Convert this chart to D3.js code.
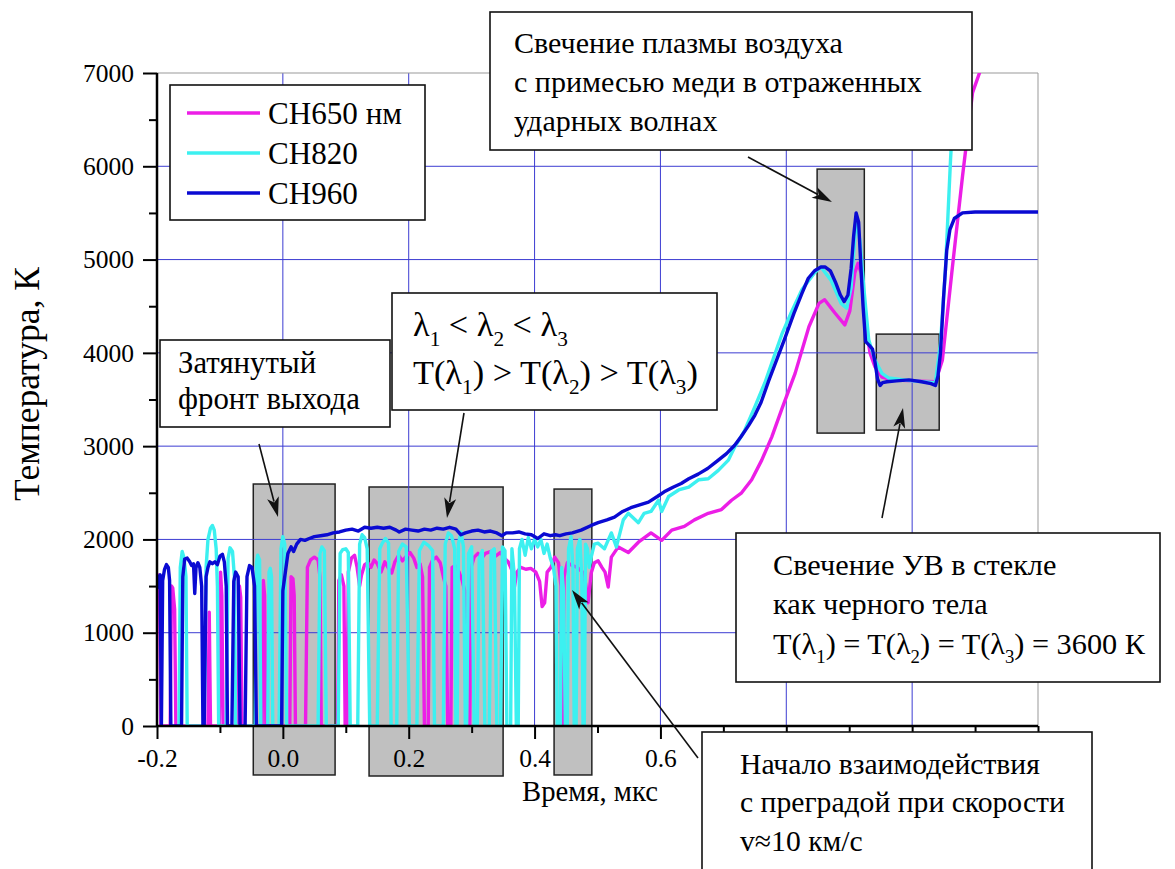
<!DOCTYPE html>
<html>
<head>
<meta charset="utf-8">
<script src="https://cdn.jsdelivr.net/npm/d3@7"></script>
<style>
  body { margin: 0; background: #fff; }
  svg { display: block; }
</style>
</head>
<body>
<svg id="chart" width="1175" height="869"></svg>
<script>
// Axis ticks
const xTicks = [-0.2, 0.0, 0.2, 0.4, 0.6, 0.8, 1.0, 1.2];
const xLabelled = [-0.2, 0.0, 0.2, 0.4, 0.6];
const xMinorTicks = [-0.1, 0.1, 0.3, 0.5, 0.7, 0.9, 1.1];
const yTicks = [0, 1000, 2000, 3000, 4000, 5000, 6000, 7000];
const yMinorTicks = [500, 1500, 2500, 3500, 4500, 5500, 6500];
const seriesNames = ["CH650 нм", "CH820", "CH960"];

// Brightness temperature, [time µs, T K]
const ch650 = [
  [-0.200,1560],[-0.198,1620],[-0.196,1500],[-0.194,0],
  [-0.179,0],[-0.177,1500],[-0.175,1480],[-0.172,1250],[-0.170,0],
  [-0.119,0],[-0.117,1220],[-0.115,0],
  [-0.101,0],[-0.099,1650],[-0.097,1400],[-0.095,0],
  [-0.071,0],[-0.069,1500],[-0.067,1380],[-0.065,0],
  [-0.033,0],[-0.031,1560],[-0.029,1400],[-0.027,0],
  [0.011,0],[0.013,1600],[0.016,1580],[0.018,1400],[0.020,0],
  [0.036,0],[0.039,1700],[0.044,1780],[0.050,1810],[0.056,1780],[0.059,1600],[0.061,0],
  [0.087,0],[0.089,1560],[0.093,1620],[0.097,1500],[0.099,0],
  [0.102,0],[0.104,1650],[0.109,1800],[0.114,1830],[0.118,1700],[0.122,1500],[0.125,1620],[0.130,1730],
  [0.135,1750],[0.140,1700],[0.145,1780],[0.150,1740],[0.156,1650],[0.162,1760],[0.168,1690],[0.173,1640],
  [0.178,1760],[0.184,1830],[0.190,1770],[0.196,1820],[0.202,1860],[0.208,1800],[0.213,1700],[0.218,1740],
  [0.222,1600],[0.225,0],
  [0.231,0],[0.233,1700],[0.238,1780],[0.244,1810],[0.250,1750],[0.255,1600],[0.259,1500],[0.262,0],
  [0.267,0],[0.269,1700],[0.274,1720],[0.280,1650],[0.285,1560],[0.289,1450],[0.291,0],
  [0.297,0],[0.299,1700],[0.304,1810],[0.310,1850],[0.316,1800],[0.322,1850],[0.330,1870],[0.338,1820],
  [0.346,1860],[0.352,1800],[0.358,1760],[0.364,1670],[0.368,1490],[0.372,1650],[0.378,1700],[0.386,1680],
  [0.394,1690],[0.402,1650],[0.408,1550],[0.412,1280],[0.416,1320],[0.420,1650],[0.426,1700],[0.432,1810],
  [0.438,1750],[0.442,1500],[0.444,0],[0.447,1600],[0.452,1750],[0.460,1720],[0.468,1700],[0.476,1650],
  [0.481,1530],[0.485,1320],[0.490,1640],[0.495,1750],[0.501,1770],[0.507,1700],[0.512,1650],[0.517,1490],
  [0.522,1810],[0.533,1920],[0.549,1860],[0.565,1970],[0.585,2070],[0.602,1990],[0.618,2100],[0.638,2140],
  [0.654,2210],[0.676,2280],[0.697,2320],[0.713,2420],[0.729,2500],[0.745,2640],[0.761,2850],[0.777,3100],
  [0.793,3400],[0.814,3780],[0.836,4280],[0.852,4530],[0.861,4570],[0.877,4430],[0.893,4300],[0.901,4450],
  [0.909,4860],[0.914,4960],[0.919,4850],[0.925,4350],[0.933,4000],[0.941,3850],[0.952,3740],[0.968,3710],
  [1.000,3700],[1.037,3690],[1.048,3920],[1.064,4920],[1.080,5890],[1.096,6790],[1.107,7000],[1.115,7700]
];

const ch820 = [
  [-0.165,0],[-0.163,1700],[-0.160,1870],[-0.157,1800],[-0.154,1600],[-0.152,0],
  [-0.125,0],[-0.122,1700],[-0.119,2000],[-0.115,2120],[-0.112,2150],[-0.109,2100],[-0.106,1900],[-0.104,1500],[-0.102,0],
  [-0.090,0],[-0.087,1800],[-0.084,1910],[-0.080,1870],[-0.077,1600],[-0.075,0],
  [-0.044,0],[-0.042,1750],[-0.040,1830],[-0.037,1780],[-0.035,0],
  [-0.024,0],[-0.022,1650],[-0.020,1690],[-0.018,1600],[-0.016,0],
  [-0.006,0],[-0.003,1900],[0.000,2030],[0.003,1950],[0.006,0],
  [0.056,0],[0.059,1850],[0.062,1920],[0.066,1880],[0.069,0],
  [0.088,0],[0.091,1850],[0.095,1890],[0.100,1900],[0.104,1860],[0.107,0],
  [0.119,0],[0.122,1950],[0.126,2050],[0.130,2020],[0.134,1900],[0.138,0],
  [0.150,0],[0.154,1900],[0.158,1960],[0.163,2010],[0.168,1960],[0.172,0],
  [0.181,0],[0.184,1870],[0.190,1950],[0.196,1920],[0.201,0],
  [0.213,0],[0.217,1880],[0.224,1970],[0.232,1930],[0.238,1880],[0.241,0],
  [0.255,0],[0.258,1950],[0.263,2070],[0.268,2040],[0.273,1900],[0.275,0],
  [0.277,0],[0.279,1950],[0.283,2080],[0.287,1920],[0.290,0],
  [0.292,0],[0.295,1850],[0.300,1920],[0.304,0],
  [0.309,0],[0.312,1800],[0.317,1880],[0.321,0],
  [0.328,0],[0.331,1870],[0.336,1900],[0.340,0],
  [0.346,0],[0.349,1920],[0.353,1880],[0.356,0],
  [0.362,0],[0.364,1900],[0.368,1600],[0.371,0],
  [0.374,0],[0.376,1900],[0.380,2000],[0.385,1830],[0.390,2020],[0.395,1900],[0.400,2000],[0.405,1920],
  [0.410,2000],[0.415,1850],[0.420,1950],[0.425,1800],[0.430,1700],[0.434,1500],[0.436,0],
  [0.441,0],[0.443,1700],[0.446,1450],[0.449,0],
  [0.452,0],[0.454,1900],[0.458,2030],[0.461,1700],[0.463,0],
  [0.466,0],[0.468,1900],[0.472,2000],[0.475,1600],[0.477,0],
  [0.479,0],[0.481,1950],[0.484,1900],[0.487,1700],[0.490,1810],[0.495,1950],[0.501,1960],[0.511,1900],
  [0.522,2070],[0.530,1920],[0.541,2210],[0.549,2280],[0.565,2180],[0.574,2280],[0.585,2300],[0.597,2420],
  [0.602,2300],[0.613,2460],[0.629,2530],[0.645,2560],[0.661,2640],[0.676,2650],[0.692,2740],[0.708,2850],
  [0.718,2990],[0.734,3170],[0.750,3420],[0.766,3680],[0.780,3950],[0.793,4200],[0.809,4450],[0.825,4680],
  [0.845,4860],[0.855,4920],[0.871,4780],[0.887,4530],[0.896,4480],[0.903,4700],[0.908,5150],[0.911,5460],
  [0.917,5200],[0.924,4640],[0.931,4140],[0.941,3920],[0.952,3780],[0.963,3730],[1.000,3700],[1.037,3680],
  [1.045,4100],[1.053,4900],[1.061,6070],[1.067,6790],[1.072,7140],[1.080,8200]
];

const ch960 = [
  [-0.200,1480],[-0.197,1600],[-0.195,1620],[-0.193,0],[-0.191,1560],[-0.188,1680],[-0.185,1730],[-0.182,1700],[-0.180,1560],[-0.178,0],
  [-0.161,0],[-0.159,1600],[-0.156,1790],[-0.152,1800],[-0.148,1760],[-0.145,1720],[-0.142,1740],[-0.140,1420],
  [-0.138,1700],[-0.135,1750],[-0.132,1700],[-0.129,1500],[-0.127,0],
  [-0.125,0],[-0.122,1600],[-0.119,1700],[-0.116,1760],[-0.112,1740],[-0.108,1760],[-0.104,1730],[-0.100,1820],
  [-0.096,1840],[-0.093,1760],[-0.090,1500],[-0.088,0],
  [-0.081,0],[-0.078,1550],[-0.075,1650],[-0.071,1600],[-0.068,0],
  [-0.060,0],[-0.057,1600],[-0.053,1720],[-0.049,1700],[-0.045,1500],[-0.042,0],
  [-0.002,0],[0.000,1450],[0.003,1600],[0.008,1850],[0.013,1920],[0.017,1870],[0.022,1950],[0.028,2000],
  [0.035,1990],[0.042,2010],[0.050,2030],[0.060,2040],[0.070,2050],[0.080,2070],[0.090,2080],[0.100,2100],
  [0.110,2110],[0.120,2090],[0.130,2130],[0.140,2120],[0.150,2130],[0.160,2120],[0.170,2130],[0.180,2100],
  [0.185,2080],[0.195,2110],[0.205,2100],[0.215,2090],[0.225,2110],[0.235,2100],[0.245,2120],[0.255,2110],
  [0.265,2130],[0.275,2110],[0.283,2050],[0.290,2070],[0.300,2090],[0.310,2100],[0.320,2080],[0.330,2090],
  [0.340,2070],[0.348,2040],[0.355,2070],[0.365,2070],[0.375,2080],[0.385,2060],[0.395,2050],[0.405,2010],
  [0.415,2060],[0.425,2040],[0.433,2050],[0.440,2040],[0.450,2060],[0.460,2070],[0.474,2100],[0.490,2150],
  [0.501,2180],[0.515,2210],[0.527,2240],[0.540,2300],[0.553,2340],[0.567,2370],[0.581,2400],[0.595,2460],
  [0.606,2510],[0.620,2560],[0.633,2600],[0.645,2650],[0.660,2700],[0.675,2760],[0.690,2840],[0.705,2920],
  [0.718,3010],[0.728,3100],[0.740,3220],[0.750,3330],[0.760,3470],[0.772,3700],[0.785,3930],[0.798,4160],
  [0.812,4420],[0.825,4640],[0.835,4800],[0.845,4880],[0.855,4920],[0.862,4920],[0.870,4880],[0.878,4760],
  [0.886,4620],[0.892,4550],[0.898,4620],[0.903,4900],[0.907,5250],[0.911,5500],[0.915,5400],[0.918,5000],
  [0.922,4500],[0.926,4120],[0.932,4080],[0.937,4040],[0.941,3900],[0.945,3720],[0.949,3650],[0.953,3680],
  [0.960,3690],[0.975,3700],[0.995,3710],[1.015,3690],[1.030,3670],[1.037,3650],[1.041,3750],[1.045,4000],
  [1.050,4600],[1.055,5100],[1.060,5320],[1.067,5440],[1.080,5500],[1.100,5510],[1.150,5510],[1.200,5510]
];

// Highlighted intervals: [t start, t end, T low, T high]
const shadedRegions = [
  [-0.047, 0.083, -525, 2594],
  [0.137, 0.350, -536, 2562],
  [0.431, 0.491, -525, 2540],
  [0.849, 0.924, 3140, 5970],
  [0.943, 1.043, 3172, 4201]
];

const FONT = "'Liberation Serif', 'Noto Serif', 'DejaVu Serif', 'FreeSerif', 'Nimbus Roman', 'Tinos', 'Times New Roman', Times, serif";
const svg = d3.select("#chart").style("font-family", FONT);
const W = 1175, H = 869;
const plot = { left: 157, right: 1038, top: 73, bottom: 726 };

const x = d3.scaleLinear().domain([-0.2, 1.2]).range([plot.left, plot.right]);
const y = d3.scaleLinear().domain([0, 7000]).range([plot.bottom, plot.top]);

// every text element gets the serif stack directly
function addText(parent) {
  return parent.append("text").style("font-family", FONT).attr("fill", "#000");
}

svg.append("rect").attr("width", W).attr("height", H).attr("fill", "#fff");

svg.append("defs").append("clipPath").attr("id", "plotClip")
  .append("rect")
  .attr("x", plot.left).attr("y", plot.top)
  .attr("width", plot.right - plot.left).attr("height", plot.bottom - plot.top);

// shaded intervals
svg.append("g").selectAll("rect").data(shadedRegions).join("rect")
  .attr("x", d => x(d[0]))
  .attr("y", d => y(d[3]))
  .attr("width", d => x(d[1]) - x(d[0]))
  .attr("height", d => y(d[2]) - y(d[3]))
  .attr("fill", "#c0c0c0")
  .attr("stroke", "#222")
  .attr("stroke-width", 1.5);

// grid
const grid = svg.append("g").attr("stroke", "#3c3cd2").attr("stroke-width", 1);
grid.selectAll("line.gx").data(xTicks.slice(1, -1)).join("line")
  .attr("x1", d => x(d)).attr("x2", d => x(d))
  .attr("y1", plot.top).attr("y2", plot.bottom);
grid.selectAll("line.gy").data(yTicks.slice(1, -1)).join("line")
  .attr("x1", plot.left).attr("x2", plot.right)
  .attr("y1", d => y(d)).attr("y2", d => y(d));

// frame top/right
svg.append("path")
  .attr("d", `M${plot.left},${plot.top}H${plot.right}V${plot.bottom}`)
  .attr("fill", "none").attr("stroke", "#999").attr("stroke-width", 1);

// series
const line = d3.line().x(d => x(d[0])).y(d => y(d[1]));
const series = [
  { name: seriesNames[0], data: ch650, color: "#ec1ee6" },
  { name: seriesNames[1], data: ch820, color: "#3cf0f0" },
  { name: seriesNames[2], data: ch960, color: "#0a0ad2" }
];
const curves = svg.append("g").attr("clip-path", "url(#plotClip)");
series.forEach(s => {
  curves.append("path")
    .datum(s.data)
    .attr("d", line)
    .attr("fill", "none")
    .attr("stroke", s.color)
    .attr("stroke-width", 3.4)
    .attr("stroke-linejoin", "round")
    .attr("stroke-linecap", "round");
});

// font size that makes a string span the given width
function fitSize(str, width) {
  const probe = addText(svg).attr("font-size", 30).text(str);
  const w = probe.node().getComputedTextLength();
  probe.remove();
  return 30 * width / w;
}

// axes
const tickFont = fitSize("4000", 51);
const fmtX = v => xLabelled.some(t => Math.abs(t - v) < 1e-9) ? d3.format(".1f")(v).replace("−", "-") : "";
const gx = svg.append("g").attr("transform", `translate(0,${plot.bottom})`)
  .call(d3.axisBottom(x).tickValues(xTicks).tickSize(13).tickPadding(10).tickFormat(fmtX));
gx.selectAll(".tick text").style("font-family", FONT).attr("font-size", tickFont);
gx.selectAll(".tick line").attr("stroke-width", 2);
svg.append("g").attr("transform", `translate(0,${plot.bottom})`)
  .call(d3.axisBottom(x).tickValues(xMinorTicks).tickSize(7).tickFormat(""))
  .call(g => g.select(".domain").remove())
  .selectAll("line").attr("stroke-width", 2);
gx.select(".domain").attr("stroke-width", 2.5).attr("d", `M${plot.left},0H${plot.right}`);

const gy = svg.append("g").attr("transform", `translate(${plot.left},0)`)
  .call(d3.axisLeft(y).tickValues(yTicks).tickSize(14).tickPadding(9).tickFormat(d3.format("d")));
gy.selectAll(".tick text").style("font-family", FONT).attr("font-size", tickFont);
gy.selectAll(".tick line").attr("stroke-width", 2);
gy.select(".domain").attr("stroke-width", 2.5).attr("d", `M0,${plot.top}V${plot.bottom}`);
svg.append("g").attr("transform", `translate(${plot.left},0)`)
  .call(d3.axisLeft(y).tickValues(yMinorTicks).tickSize(8).tickFormat(""))
  .call(g => g.select(".domain").remove())
  .selectAll("line").attr("stroke-width", 2);

// axis titles
addText(svg)
  .attr("transform", `translate(39,384) rotate(-90)`)
  .attr("text-anchor", "middle").attr("font-size", fitSize("Температура, К", 234))
  .text("Температура, К");
addText(svg)
  .attr("x", 590).attr("y", 801).attr("text-anchor", "middle")
  .attr("font-size", fitSize("Время, мкс", 136))
  .text("Время, мкс");

// annotation helpers
function box(x0, y0, w, h) {
  svg.append("rect").attr("x", x0).attr("y", y0).attr("width", w).attr("height", h)
    .attr("fill", "#fff").attr("stroke", "#111").attr("stroke-width", 1.6);
}
function richLine(x0, y0, parts, size) {
  const t = addText(svg).attr("x", x0).attr("y", y0).attr("font-size", size);
  let lowered = false;
  parts.forEach(p => {
    const isSub = Array.isArray(p);
    const str = isSub ? p[0] : p;
    const ts = t.append("tspan").style("font-family", FONT).text(str);
    if (isSub && !lowered) { ts.attr("dy", size * 0.3).attr("font-size", size * 0.62); lowered = true; }
    else if (!isSub && lowered) { ts.attr("dy", -size * 0.3); lowered = false; }
  });
  return t;
}
function arrow(x1, y1, x2, y2) {
  const dx = x2 - x1, dy = y2 - y1, len = Math.hypot(dx, dy);
  const ux = dx / len, uy = dy / len;
  const hl = 20, hw = 6;
  const bx = x2 - ux * hl, by = y2 - uy * hl;
  svg.append("line").attr("x1", x1).attr("y1", y1).attr("x2", bx + ux * 4).attr("y2", by + uy * 4)
    .attr("stroke", "#111").attr("stroke-width", 1.6);
  svg.append("path")
    .attr("d", `M${x2},${y2}L${bx - uy * hw},${by + ux * hw}L${bx + ux * 5},${by + uy * 5}L${bx + uy * hw},${by - ux * hw}Z`)
    .attr("fill", "#111");
}

// text block whose font size is set so that one chosen line spans a given width
function textBlock(x0, baselines, lines, refLine, refWidth) {
  const probe = richLine(0, -100, lines[refLine], 30);
  const size = 30 * refWidth / probe.node().getComputedTextLength();
  probe.remove();
  lines.forEach((parts, i) => richLine(x0, baselines[i], parts, size));
}

// legend
const legendFont = fitSize("CH650", 90);
box(170, 85, 255, 135);
series.forEach((s, i) => {
  const ly = 113 + i * 40;
  svg.append("line").attr("x1", 187).attr("x2", 260).attr("y1", ly).attr("y2", ly)
    .attr("stroke", s.color).attr("stroke-width", 3.4);
  addText(svg).attr("x", 268).attr("y", ly + 11).attr("font-size", legendFont).text(s.name);
});

// plasma glow
box(490, 12, 482, 138);
textBlock(514, [53, 92, 131],
  [["Свечение плазмы воздуха"], ["с примесью меди в отраженных"], ["ударных волнах"]], 1, 408);
arrow(748, 157, 832, 202);

// smeared front
box(160, 340, 230, 87);
textBlock(178, [373, 409], [["Затянутый"], ["фронт выхода"]], 1, 182);
arrow(259, 444, 278, 517);

// wavelength ordering
box(392, 293, 325, 117);
textBlock(413, [336, 384],
  [["λ", ["1"], " < λ", ["2"], " < λ", ["3"]], ["T(λ", ["1"], ") > T(λ", ["2"], ") > T(λ", ["3"], ")"]], 1, 285);
arrow(464, 413, 447, 518);

// shock glow in glass
box(736, 533, 424, 149);
textBlock(773, [575, 614, 654],
  [["Свечение УВ в стекле"], ["как черного тела"], ["T(λ", ["1"], ") = T(λ", ["2"], ") = T(λ", ["3"], ") = 3600 К"]], 2, 372);
arrow(882, 518, 903, 408);

// interaction onset
box(702, 732, 390, 160);
textBlock(740, [774, 812, 851],
  [["Начало взаимодействия"], ["с преградой при скорости"], ["v≈10 км/с"]], 1, 325);
arrow(698, 758, 572, 590);
</script>
</body>
</html>
